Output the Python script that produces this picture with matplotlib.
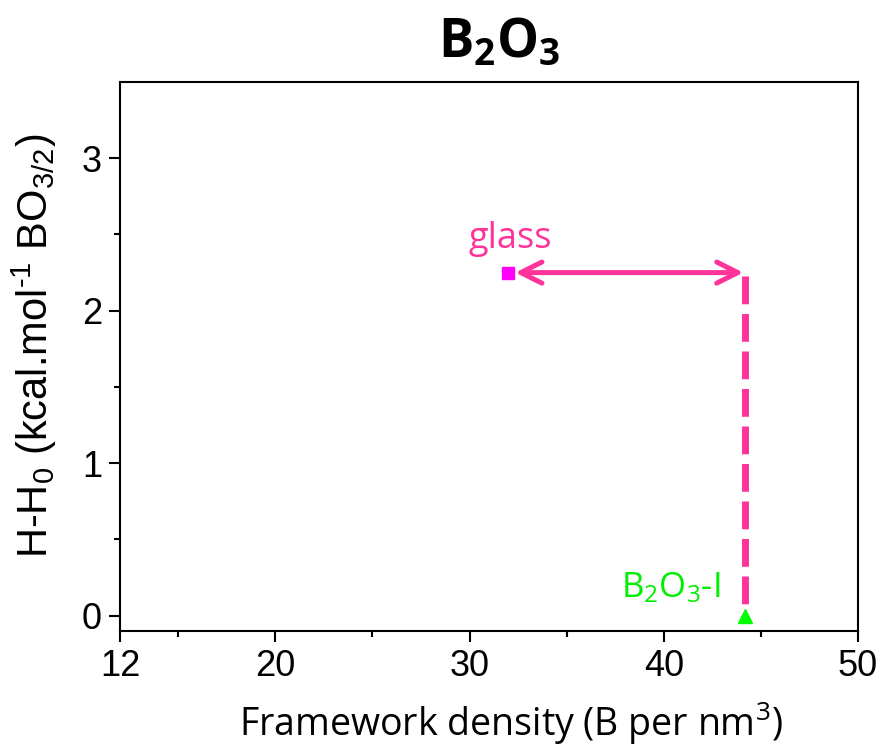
import matplotlib
matplotlib.use('Agg')
import matplotlib.pyplot as plt
from matplotlib.ticker import FixedLocator

# dados
glass_x = [32.0]
glass_y = [2.25]
cryst_x = [44.2]
cryst_y = [0.0]
glass_label = 'glass'
cryst_label = r'$\mathregular{B_2O_3}$-I'
xticks = [12, 20, 30, 40, 50]
xminor = [15, 25, 35, 45]
yticks = [0, 1, 2, 3]
yminor = [0.5, 1.5, 2.5]

pink = '#FF3399'

fig = plt.figure(figsize=(8.85, 7.5), dpi=100)
ax = fig.add_axes([0.1356, 0.1587, 0.9695 - 0.1356, 0.8907 - 0.1587])

ax.plot(glass_x, glass_y, 's', color='#FF00FF', ms=8, zorder=5)
ax.plot(cryst_x, cryst_y, '^', color='#00FF00', ms=10, zorder=5)

# seta dupla glass -> cristal
ax.annotate('', xy=(cryst_x[0] - 0.1, glass_y[0]), xytext=(glass_x[0] + 0.35, glass_y[0]),
            arrowprops=dict(arrowstyle='<->', color=pink, lw=3.6, mutation_scale=38,
                            shrinkA=0, shrinkB=0, capstyle='round', joinstyle='round'))
# linha tracejada vertical
ax.plot([cryst_x[0], cryst_x[0]], [glass_y[0] - 0.02, cryst_y[0] + 0.07], color=pink,
        lw=5, dashes=(4, 1.4), solid_capstyle='butt')

ax.text(glass_x[0] + 0.1, glass_y[0] + 0.16, glass_label, color=pink, fontsize=26,
        family='Open Sans', ha='center', va='baseline')
ax.text(cryst_x[0] - 3.85, cryst_y[0] + 0.12, cryst_label, color='#00EE00', fontsize=25,
        family='Open Sans', ha='center', va='baseline')

ax.set_xlim(12, 50)
ax.set_ylim(-0.1, 3.5)
ax.set_xticks(xticks)
ax.xaxis.set_minor_locator(FixedLocator(xminor))
ax.set_yticks(yticks)
ax.yaxis.set_minor_locator(FixedLocator(yminor))

for s in ax.spines.values():
    s.set_linewidth(1.5)
ax.tick_params(which='major', direction='out', length=8, width=1.5, labelsize=26, pad=5)
ax.tick_params(which='minor', direction='out', length=4.5, width=1.5)
for lbl in ax.get_xticklabels() + ax.get_yticklabels():
    lbl.set_family('Liberation Sans')

ax.set_xlabel(r'Framework density (B per nm$\mathregular{^3}$)', fontsize=27, family='Open Sans')
ax.xaxis.set_label_coords(0.529, -0.125)
ax.set_ylabel('H-H$\\mathregular{_0}$ (kcal.mol$\\mathregular{^{\u20101}}$ BO$\\mathregular{_{3/2}}$)',
              fontsize=30, family='Liberation Sans')
ax.yaxis.set_label_coords(-0.083, 0.52)
ax.set_title(r'$\mathregular{B_2O_3}$', fontsize=38, fontweight='bold', family='Open Sans',
             x=0.514, pad=18)

fig.savefig('out.png', dpi=100)
